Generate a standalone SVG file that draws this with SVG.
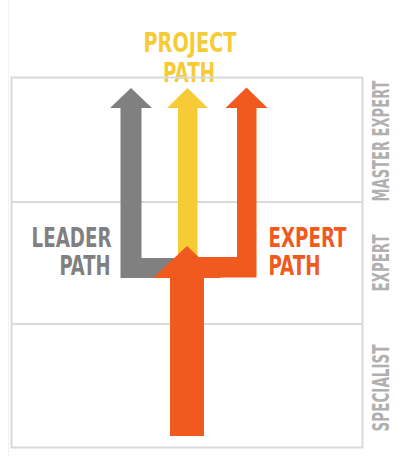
<svg xmlns="http://www.w3.org/2000/svg" width="403" height="456" viewBox="0 0 403 456">
  <style>
    .lbl { font-family: "Liberation Sans Narrow", "DejaVu Sans Condensed", "Liberation Sans", sans-serif; font-weight: bold; }
    .main { font-size: 27px; }
    .side { font-size: 23px; fill: #b0b0b0; }
    .grid { fill: none; stroke: #dadada; stroke-width: 2; }
    .gray { fill: #808080; }
    .yellow { fill: #f7cb35; }
    .orange { fill: #f15a1f; }
  </style>

  <rect width="403" height="456" fill="#ffffff"/>
  <line x1="8.5" y1="0" x2="8.5" y2="456" stroke="#f2f2f2" stroke-width="1"/>

  <!-- top heading, sits under the frame line -->
  <g id="project-label" class="lbl main" fill="#f7cb35">
    <text x="143.5" y="52" textLength="93" lengthAdjust="spacingAndGlyphs">PROJECT</text>
    <text x="163" y="82" textLength="52" lengthAdjust="spacingAndGlyphs">PATH</text>
  </g>

  <!-- level grid -->
  <g id="grid">
    <rect class="grid" x="11.5" y="77.5" width="351" height="370"/>
    <line class="grid" x1="11.5" y1="202" x2="362.5" y2="202"/>
    <line class="grid" x1="11.5" y1="324" x2="362.5" y2="324"/>
  </g>

  <!-- career path arrows -->
  <g id="connectors">
    <g id="leader-path">
      <path class="gray" d="M110,108 L131,88 L152,108 L141.5,108 L141.5,258 L178,258 L178,278 L120.5,278 L120.5,108 Z"/>
    </g>
    <g id="project-path">
      <path class="yellow" d="M167,108 L187.5,88 L208,108 L197.5,108 L197.5,265 L178,265 L178,108 Z"/>
    </g>
    <g id="expert-path">
      <path class="orange" d="M225.5,108 L246.5,87.5 L267.5,108 L256.5,108 L256.5,277.5 L198,277.5 L198,257 L237,257 L237,108 Z"/>
    </g>
    <g id="specialist-trunk">
      <path class="orange" d="M153,278 L187,246 L221,278 L204,278 L204,436 L170,436 L170,278 Z"/>
    </g>
  </g>

  <g id="leader-label" class="lbl main" fill="#808080">
    <text x="31.5" y="247" textLength="80" lengthAdjust="spacingAndGlyphs">LEADER</text>
    <text x="59.5" y="275" textLength="51" lengthAdjust="spacingAndGlyphs">PATH</text>
  </g>

  <g id="expert-label" class="lbl main" fill="#f15a1f">
    <text x="268.5" y="247" textLength="78" lengthAdjust="spacingAndGlyphs">EXPERT</text>
    <text x="268.5" y="275" textLength="52" lengthAdjust="spacingAndGlyphs">PATH</text>
  </g>

  <!-- level names along the right edge -->
  <g id="levels" class="lbl side" text-anchor="middle">
    <text transform="translate(389,141) rotate(-90)" textLength="121" lengthAdjust="spacingAndGlyphs">MASTER EXPERT</text>
    <text transform="translate(389,263) rotate(-90)" textLength="57" lengthAdjust="spacingAndGlyphs">EXPERT</text>
    <text transform="translate(389,388) rotate(-90)" textLength="87" lengthAdjust="spacingAndGlyphs">SPECIALIST</text>
  </g>
</svg>
